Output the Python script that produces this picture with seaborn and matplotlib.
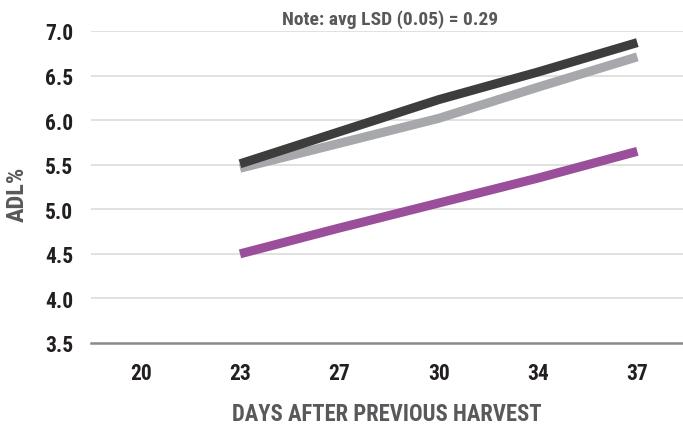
import numpy as np
import pandas as pd
import matplotlib
matplotlib.use("Agg")
import matplotlib.pyplot as plt
import seaborn as sns

# data
days = ["20", "23", "27", "30", "34", "37"]
series_days = ["23", "27", "30", "34", "37"]
dark_vals = [5.51, 5.87, 6.23, 6.54, 6.87]
light_vals = [5.46, 5.74, 6.02, 6.37, 6.71]
purple_vals = [4.50, 4.79, 5.07, 5.35, 5.65]
yticks = [3.5, 4.0, 4.5, 5.0, 5.5, 6.0, 6.5, 7.0]

pos = {d: i for i, d in enumerate(days)}
rows = []
for name, vals in [("dark", dark_vals), ("light", light_vals), ("purple", purple_vals)]:
    for d, v in zip(series_days, vals):
        rows.append({"pos": pos[d], "ADL": v, "series": name})
df = pd.DataFrame(rows)

sns.set_style("white")
plt.rcParams["font.family"] = ["Liberation Sans Narrow", "DejaVu Sans Condensed",
                               "Roboto Condensed", "DejaVu Sans"]

W, H = 683, 427
fig = plt.figure(figsize=(W / 100, H / 100), dpi=100)
# plot area: x 91..687 px, y 32..344 px
ax = fig.add_axes([91 / W, (H - 344) / H, 596 / W, (344 - 32) / H])

palette = {"dark": "#3d3d3d", "light": "#a7a8ab", "purple": "#9b4f9b"}
sns.lineplot(data=df, x="pos", y="ADL", hue="series", palette=palette,
             hue_order=["purple", "light", "dark"], linewidth=6.5,
             legend=False, ax=ax)
for ln in ax.lines:
    ln.set_solid_capstyle("butt")
    ln.set_clip_on(False)

ax.set_ylim(3.5, 7.0)
ax.set_xlim(-0.5, 5.5)
ax.set_yticks(yticks)
ax.set_yticklabels([f"{t:.1f}" for t in yticks])
ax.set_xticks(range(len(days)))
ax.set_xticklabels(days)

for t in yticks[1:]:
    ax.axhline(t, color="#d9d9d9", linewidth=1.1, zorder=0)

for s in ["top", "right", "left"]:
    ax.spines[s].set_visible(False)
ax.spines["bottom"].set_color("#8a8a8a")
ax.spines["bottom"].set_linewidth(1.8)

ax.tick_params(axis="both", length=0, labelsize=15.5, labelcolor="#231f20")
ax.tick_params(axis="y", pad=13)
ax.tick_params(axis="x", pad=14)
for lab in ax.get_xticklabels() + ax.get_yticklabels():
    lab.set_fontweight("bold")

ax.set_xlabel("DAYS AFTER PREVIOUS HARVEST", fontsize=16.3, fontweight="bold",
              color="#58595b")
ax.xaxis.set_label_coords((387 - 91) / 596, (344 - 403) / 312)
ax.set_ylabel("")
fig.text(17 / W, 1 - 194 / H, "ADL%", rotation=90, ha="center", va="center",
         fontsize=17.5, fontweight="bold", color="#58595b")

fig.text(390 / W, 1 - 20 / H, "Note: avg LSD (0.05) = 0.29", ha="center",
         va="center", fontsize=14, fontweight="bold", color="#58595b")

fig.savefig("out.png", dpi=100)
